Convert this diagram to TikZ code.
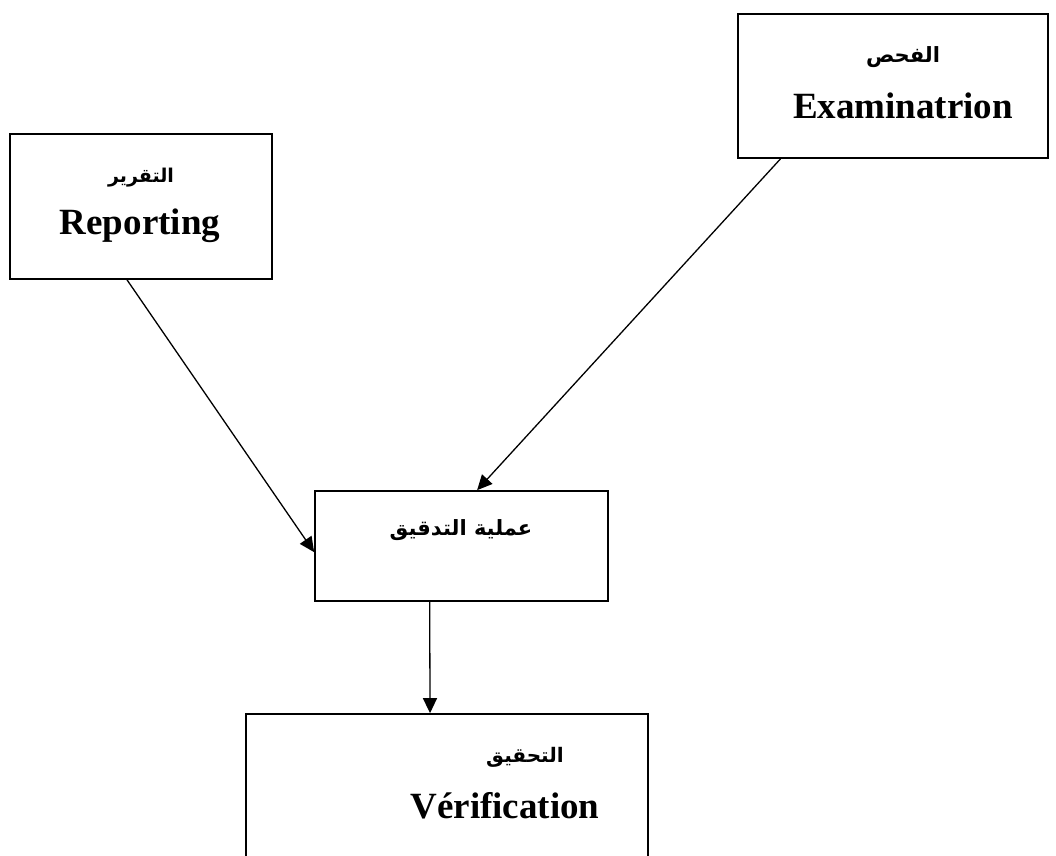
\documentclass[tikz,border=0pt]{standalone}
\usepackage{fontspec}
\setmainfont{Liberation Serif}
\newfontfamily\arabicfont[Script=Arabic]{DejaVu Sans}
\TeXXeTstate=1
\usetikzlibrary{arrows.meta,calc}
\tikzset{
  box/.style={draw=black, line width=1.7pt, rectangle, inner sep=0pt},
  lat/.style={inner sep=0pt, anchor=base, font=\fontsize{37}{40}\selectfont\bfseries},
  ar/.style={inner sep=0pt, anchor=center, font=\fontsize{#1}{#1}\selectfont\arabicfont\bfseries},
  ar/.default=20,
  arr/.style={draw=black, line width=1.3pt, -{Triangle[length=15pt,width=14pt]}}
}
\begin{document}
\begin{tikzpicture}[x=1pt,y=-1pt]
\useasboundingbox (0,0) rectangle (1056,855);
\clip (0,0) rectangle (1056,855);
% boxes
\node[box, minimum width=262, minimum height=145] (rep) at (141,206.5) {};
\node[box, minimum width=310, minimum height=144] (exa) at (893,86) {};
\node[box, minimum width=293, minimum height=110] (aud) at (461.5,546) {};
\node[box, minimum width=402, minimum height=156] (ver) at (447,792) {};
% texts
\node[ar=19] (repar) at (141,178) {\beginR التقرير\endR};
\node[lat] (replat) at (140,234) {Reporting};
\node[ar=21] (exaar) at (903,57) {\beginR الفحص\endR};
\node[lat] (exalat) at (903,118) {Examinatrion};
\node[ar=21] (audar) at (461,530) {\beginR عملية التدقيق\endR};
\node[ar=20] (verar) at (525,757) {\beginR التحقيق\endR};
\node[lat] (verlat) at (505,818) {Vérification};
% connectors
\draw[arr] ($(rep.south west)!0.447!(rep.south east)$) -- ($(aud.north west)!0.555!(aud.south west)$);
\draw[arr] ($(exa.south west)!0.139!(exa.south east)$) -- ($(aud.north west)!0.553!(aud.north east)$);
\draw[arr] ($(aud.south west)!0.392!(aud.south east)$) -- ($(ver.north west)!0.458!(ver.north east)$);
\end{tikzpicture}
\end{document}
